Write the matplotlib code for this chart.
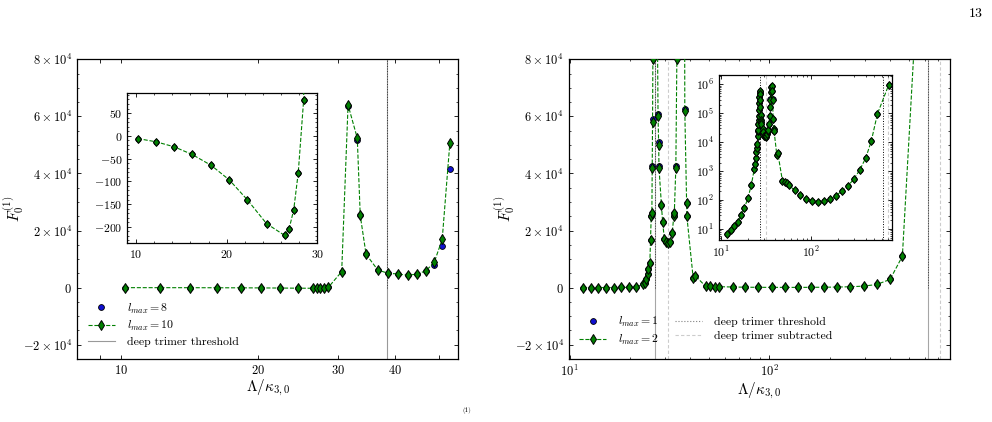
import matplotlib
matplotlib.use("Agg")
import matplotlib.pyplot as plt
from matplotlib.lines import Line2D
from matplotlib.ticker import (FixedLocator, FuncFormatter, MultipleLocator,
                               NullLocator, NullFormatter, LogLocator)

plt.rcParams.update({
    "font.family": "serif",
    "font.serif": ["cmr10"],
    "mathtext.fontset": "cm",
    "axes.unicode_minus": False,
    "axes.formatter.use_mathtext": True,
    "font.size": 9,
    "xtick.direction": "in", "ytick.direction": "in",
    "xtick.top": True, "ytick.right": True,
    "xtick.major.size": 3.0, "ytick.major.size": 3.0,
    "xtick.minor.size": 1.6, "ytick.minor.size": 1.6,
    "xtick.major.width": 0.6, "ytick.major.width": 0.6,
    "xtick.minor.width": 0.5, "ytick.minor.width": 0.5,
    "axes.linewidth": 0.9,
})

# left panel: l_max = 8 (blue) and l_max = 10 (green)
lam_left = [10.2, 12.2, 14.2, 16.2, 18.3, 20.3, 22.3, 24.4, 26.4, 26.9, 27.4, 27.9, 28.5,
            30.5, 31.5, 33.0, 33.5, 34.5, 36.6, 38.6, 40.6, 42.6, 44.7, 46.7, 48.7, 50.7, 52.7]
f_left_l10 = [-6, -13, -24, -41, -65, -97, -141, -193, -219, -204, -163, -82, 79,
              5600, 64000, 52400, 25300, 11700, 6200, 5000, 4800, 4300, 4800, 5900, 8900, 16900, 50700]
f_left_l8 = [-6, -13, -24, -41, -65, -97, -141, -193, -219, -204, -163, -82, 79,
             5600, 63600, 51700, 25300, 11700, 6200, 5000, 4800, 4300, 4800, 5800, 8100, 14500, 41600]
thr_left = 38.3

# right panel: l_max = 1 (blue) and l_max = 2 (green)
lam_right = [11.68, 12.75, 13.93, 15.23, 16.6, 18.1, 19.8, 21.6, 23.3, 23.7,
             24.2, 24.6, 24.8, 25.2, 25.4, 25.6, 25.8, 25.9, 26.0, 26.1,
             26.2, 26.35, 26.5, 26.65, 26.8, 26.95, 27.1, 27.3, 27.5, 27.7,
             27.9, 28.0, 28.8, 29.2, 29.8, 30.5, 31.2, 31.8, 32.6, 33.2,
             33.4, 34.0, 34.4, 34.8, 35.2, 35.6, 36.0, 36.4, 36.8, 37.2,
             37.7, 38.5, 38.6, 41.5, 42.5, 47.9, 50.5, 53.2, 56.1, 65.5,
             75.7, 88.1, 102.8, 119.5, 138.9, 161.5, 187.6, 218, 253.6, 295.8,
             343.8, 401, 462, 540, 722]
f_right_l2 = [7, 9.2, 13, 18, 29.5, 54, 116, 332, 1190, 1750,
              2900, 4700, 6400, 8500, 16600, 25000, 26000, 42000, 58000, 80000,
              1.3e5, 2.3e5, 3.6e5, 5.2e5, 6.0e5, 4.5e5, 2.8e5, 1.6e5, 9.0e4, 6.0e4,
              5.0e4, 4.2e4, 2.9e4, 2.3e4, 1.7e4, 1.6e4, 1.55e4, 1.6e4, 1.9e4, 2.5e4,
              2.6e4, 4.2e4, 8.0e4, 1.6e5, 3.0e5, 5.5e5, 8.0e5, 9.0e5, 6.0e5, 3.0e5,
              6.2e4, 2.96e4, 2.5e4, 3500, 4200, 455, 433, 390, 332, 218,
              147, 113, 96, 89, 91, 110, 143, 207, 307, 535,
              1100, 2880, 11000, 95500, 980000]
f_right_l1 = [7, 9.2, 13, 18, 29.5, 54, 116, 332, 1190, 1750,
              2900, 4700, 6400, 8500, 16600, 25000, 26000, 42500, 59000, 81000,
              1.32e5, 2.33e5, 3.65e5, 5.3e5, 6.1e5, 4.6e5, 2.85e5, 1.62e5, 9.1e4, 6.1e4,
              5.1e4, 4.25e4, 2.9e4, 2.3e4, 1.7e4, 1.6e4, 1.55e4, 1.6e4, 1.9e4, 2.5e4,
              2.6e4, 4.25e4, 8.1e4, 1.62e5, 3.05e5, 5.6e5, 8.1e5, 9.1e5, 6.1e5, 3.05e5,
              6.25e4, 2.96e4, 2.5e4, 3500, 4200, 455, 433, 390, 332, 218,
              147, 113, 96, 89, 91, 110, 143, 207, 307, 535,
              1100, 2880, 11000, 95500, 980000]
thr_right = [26.7, 620]
sub_right = [31.1, 713]

yticks_main = [-2e4, 0, 2e4, 4e4, 6e4, 8e4]


def sci_label(v, pos=None):
    if v == 0:
        return "$0$"
    return r"$%d\times10^{4}$" % round(v / 1e4)


def draw_series(ax, x, yb, yg, lb, lg, ms=4.8):
    ax.plot(x, yb, ls="none", marker="o", ms=ms - 0.6, mfc="#1010d0", mec="k",
            mew=0.6, label=lb, zorder=3)
    ax.plot(x, yg, ls="--", lw=0.8, color="green", marker="d", ms=ms,
            mfc="green", mec="k", mew=0.7, label=lg, zorder=4)


def style_main(ax):
    ax.set_ylim(-2.5e4, 8e4)
    ax.yaxis.set_major_locator(FixedLocator(yticks_main))
    ax.yaxis.set_major_formatter(FuncFormatter(sci_label))
    ax.yaxis.set_minor_locator(MultipleLocator(5000))
    ax.set_ylabel(r"$F_0^{(1)}$", fontsize=11)
    ax.yaxis.set_label_coords(-0.135, 0.5)
    ax.set_xlabel(r"$\Lambda/\kappa_{3,0}$", fontsize=11, labelpad=1)
    ax.tick_params(which="both", top=True, right=True, labelsize=9)


fig = plt.figure(figsize=(9.92, 4.22), dpi=100)

# ---- left panel
ax1 = fig.add_axes([0.0776, 0.1493, 0.3844, 0.7102])
ax1.set_xscale("log")
draw_series(ax1, lam_left, f_left_l8, f_left_l10, r"$l_{max}=8$", r"$l_{max}=10$")
ax1.axvline(thr_left, color="0.6", lw=0.8, label="deep trimer threshold", zorder=1)
ax1.vlines(thr_left, 0, 9e4, color="0.2", lw=0.7, ls=":", zorder=1)
ax1.set_xlim(8, 55)
ax1.xaxis.set_major_locator(FixedLocator([9, 10, 20, 30, 40, 50]))
ax1.xaxis.set_major_formatter(FuncFormatter(
    lambda v, p: "" if round(v) in (9, 50) else "$%d$" % round(v)))
ax1.xaxis.set_minor_locator(NullLocator())
style_main(ax1)
ax1.legend(loc="lower left", bbox_to_anchor=(0.0, 0.005), frameon=False,
           fontsize=8.5, handlelength=2.3, handletextpad=1.0, labelspacing=0.3)

# left inset
ins1 = fig.add_axes([0.128, 0.4249, 0.1918, 0.3555])
draw_series(ins1, lam_left, f_left_l8, f_left_l10, None, None, ms=4.5)
ins1.set_xlim(9, 30)
ins1.set_ylim(-235, 95)
ins1.xaxis.set_major_locator(FixedLocator([10, 20, 30]))
ins1.xaxis.set_minor_locator(MultipleLocator(2))
ins1.yaxis.set_major_locator(MultipleLocator(50))
ins1.yaxis.set_minor_locator(MultipleLocator(10))
ins1.xaxis.set_major_formatter(FuncFormatter(lambda v, p: "$%d$" % round(v)))
ins1.yaxis.set_major_formatter(FuncFormatter(lambda v, p: "$%d$" % round(v)))
ins1.tick_params(which="both", top=True, right=True, labelsize=8.5)

# ---- right panel
ax2 = fig.add_axes([0.5733, 0.1493, 0.3844, 0.7102])
ax2.set_xscale("log")
draw_series(ax2, lam_right, f_right_l1, f_right_l2, r"$l_{max}=1$", r"$l_{max}=2$")
for xv in thr_right:
    ax2.axvline(xv, color="0.65", lw=0.8, zorder=1)
    ax2.vlines(xv, 0, 9e4, color="0.25", lw=0.7, ls=":", zorder=1)
for xv in sub_right:
    ax2.axvline(xv, color="0.8", lw=0.8, ls="--", dashes=(3, 2), zorder=1)
ax2.set_xlim(9.9, 800)
ax2.xaxis.set_major_locator(LogLocator(base=10))
ax2.xaxis.set_minor_locator(LogLocator(base=10, subs=range(2, 10)))
ax2.xaxis.set_minor_formatter(NullFormatter())
style_main(ax2)
h = ax2.get_legend_handles_labels()[0]
h += [Line2D([], [], color="0.5", lw=0.8, ls=":"),
      Line2D([], [], color="0.8", lw=0.8, ls="--", dashes=(3, 2))]
ax2.legend(h, [r"$l_{max}=1$", r"$l_{max}=2$", "deep trimer threshold",
               "deep trimer subtracted"], ncol=2, loc="lower left",
           bbox_to_anchor=(0.0, 0.005), frameon=False, fontsize=8.5,
           handlelength=2.3, handletextpad=1.0, labelspacing=0.3, columnspacing=1.3)

# right inset
ins2 = fig.add_axes([0.7245, 0.432, 0.1745, 0.39])
ins2.set_xscale("log")
ins2.set_yscale("log")
draw_series(ins2, lam_right, f_right_l1, f_right_l2, None, None, ms=4.5)
for xv in thr_right:
    ins2.axvline(xv, color="k", lw=0.7, ls=":", zorder=1)
for xv in sub_right:
    ins2.axvline(xv, color="0.8", lw=0.8, ls="--", dashes=(3, 2), zorder=1)
ins2.set_xlim(9.4, 780)
ins2.set_ylim(4.3, 2.1e6)
ins2.yaxis.set_major_locator(LogLocator(base=10, numticks=10))
ins2.yaxis.set_minor_locator(LogLocator(base=10, subs=range(2, 10), numticks=20))
ins2.yaxis.set_minor_formatter(NullFormatter())
ins2.xaxis.set_minor_formatter(NullFormatter())
ins2.tick_params(which="both", top=True, right=True, labelsize=8.5)

fig.text(976 / 992, 1 - 14 / 422, "13", ha="center", va="center", fontsize=10)
fig.text(467 / 992, 1 - 410 / 422, "(1)", ha="center", va="center", fontsize=5)

fig.savefig("out.png", dpi=100)
